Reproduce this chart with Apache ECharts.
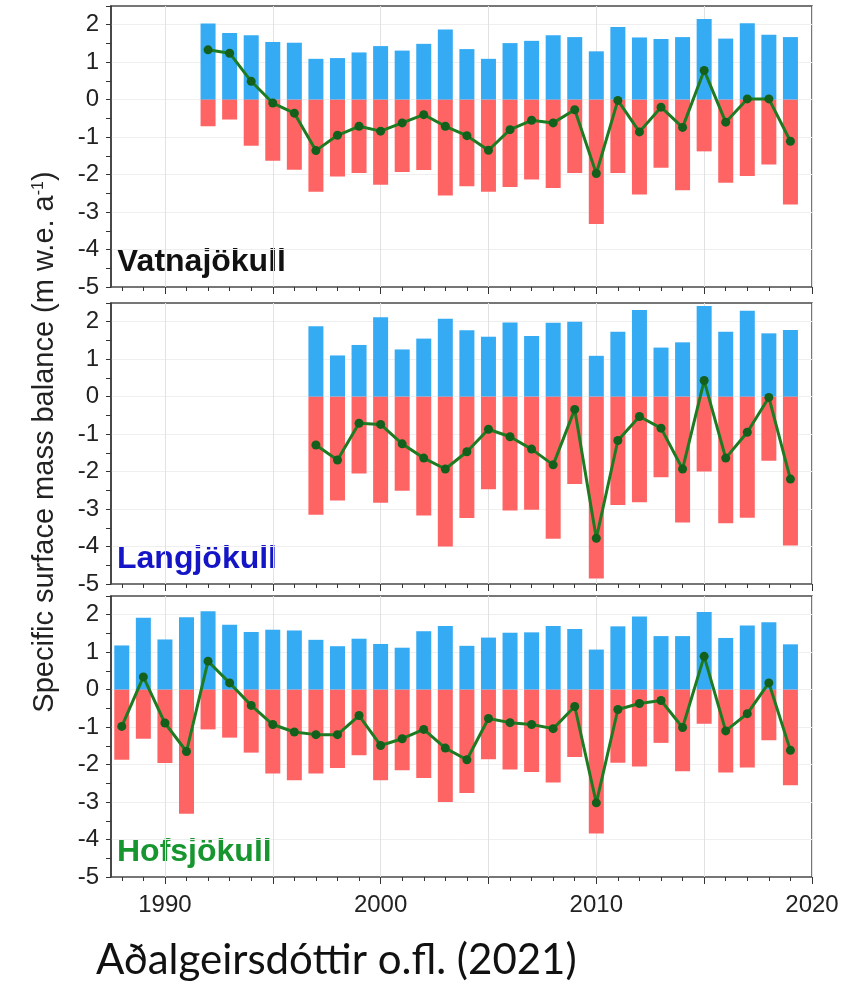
<!DOCTYPE html>
<html><head><meta charset="utf-8">
<script src="https://cdn.jsdelivr.net/npm/echarts@6/dist/echarts.min.js"></script>
<style>html,body{margin:0;padding:0;background:#fff}#c{width:862px;height:986px}</style>
</head><body><div id="c"></div>
<script>
// ---- data ----
const vatnaYears  = [1992,1993,1994,1995,1996,1997,1998,1999,2000,2001,2002,2003,2004,2005,2006,2007,2008,2009,2010,2011,2012,2013,2014,2015,2016,2017,2018,2019];
const vatnaWinter = [2.03,1.78,1.72,1.54,1.52,1.09,1.11,1.26,1.43,1.31,1.49,1.87,1.35,1.09,1.51,1.57,1.72,1.67,1.29,1.94,1.66,1.62,1.67,2.15,1.63,2.04,1.73,1.67];
const vatnaSummer = [-0.71,-0.53,-1.23,-1.63,-1.87,-2.46,-2.05,-1.96,-2.27,-1.93,-1.88,-2.56,-2.31,-2.46,-2.33,-2.13,-2.36,-1.96,-3.32,-1.96,-2.53,-1.82,-2.42,-1.38,-2.22,-2.04,-1.73,-2.80];
const vatnaNet    = [1.33,1.24,0.49,-0.09,-0.36,-1.36,-0.95,-0.71,-0.84,-0.62,-0.40,-0.71,-0.96,-1.35,-0.80,-0.55,-0.62,-0.27,-1.97,-0.02,-0.86,-0.20,-0.74,0.78,-0.60,0.02,0.02,-1.11];

const langYears  = [1997,1998,1999,2000,2001,2002,2003,2004,2005,2006,2007,2008,2009,2010,2011,2012,2013,2014,2015,2016,2017,2018,2019];
const langWinter = [1.88,1.10,1.38,2.12,1.26,1.55,2.08,1.77,1.60,1.98,1.62,1.97,2.00,1.09,1.73,2.31,1.31,1.45,2.42,1.73,2.29,1.69,1.78];
const langSummer = [-3.15,-2.77,-2.05,-2.83,-2.51,-3.17,-4.00,-3.24,-2.47,-3.04,-3.02,-3.79,-2.33,-4.85,-2.89,-2.82,-2.15,-3.36,-2.00,-3.38,-3.23,-1.71,-3.97];
const langNet    = [-1.29,-1.69,-0.71,-0.74,-1.26,-1.64,-1.93,-1.47,-0.87,-1.07,-1.40,-1.82,-0.34,-3.78,-1.17,-0.53,-0.84,-1.93,0.43,-1.64,-0.95,-0.02,-2.20];

const hofsYears  = [1988,1989,1990,1991,1992,1993,1994,1995,1996,1997,1998,1999,2000,2001,2002,2003,2004,2005,2006,2007,2008,2009,2010,2011,2012,2013,2014,2015,2016,2017,2018,2019];
const hofsWinter = [1.18,1.92,1.34,1.93,2.09,1.73,1.54,1.60,1.58,1.33,1.16,1.36,1.22,1.12,1.56,1.70,1.17,1.39,1.52,1.53,1.70,1.62,1.07,1.69,1.95,1.43,1.43,2.07,1.38,1.71,1.80,1.21];
const hofsSummer = [-1.87,-1.31,-1.96,-3.31,-1.06,-1.28,-1.68,-2.24,-2.42,-2.24,-2.09,-1.75,-2.42,-2.15,-2.36,-3.00,-2.76,-1.86,-2.13,-2.20,-2.48,-1.80,-3.84,-1.95,-2.05,-1.42,-2.18,-0.91,-2.21,-2.08,-1.35,-2.55];
const hofsNet    = [-0.98,0.34,-0.89,-1.65,0.76,0.18,-0.42,-0.93,-1.13,-1.20,-1.20,-0.69,-1.49,-1.31,-1.06,-1.56,-1.87,-0.77,-0.88,-0.93,-1.04,-0.45,-3.02,-0.53,-0.37,-0.29,-1.01,0.89,-1.10,-0.64,0.18,-1.62];

const panelNames = ['Vatnajökull','Langjökull','Hofsjökull'];

// ticks / labels
const xLabelValues = [1990,2000,2010,2020];
const xMinorTicks  = [1988,1989,1990,1991,1992,1993,1994,1995,1996,1997,1998,1999,2000,2001,2002,2003,2004,2005,2006,2007,2008,2009,2010,2011,2012,2013,2014,2015,2016,2017,2018,2019,2020];
const xMajorTicks  = [1990,1995,2000,2005,2010,2015,2020];
const yLabelValues = [-5,-4,-3,-2,-1,0,1,2];
const yTickValues  = [-5,-4.5,-4,-3.5,-3,-2.5,-2,-1.5,-1,-0.5,0,0.5,1,1.5,2,2.5];
const yGridValues  = [-4,-3,-2,-1,0,1,2];
const yTitle = 'Specific surface mass balance (m w.e. a{sup|-1})';
const citation = 'Aðalgeirsdóttir o.fl. (2021)';

// ---- layout / style ----
const panels = [
  {years: vatnaYears, w: vatnaWinter, s: vatnaSummer, n: vatnaNet, top: 6,   color: '#111111'},
  {years: langYears,  w: langWinter,  s: langSummer,  n: langNet,  top: 303, color: '#1515c8'},
  {years: hofsYears,  w: hofsWinter,  s: hofsSummer,  n: hofsNet,  top: 596, color: '#17952f'}
];
const GRID_LEFT = 111, GRID_W = 701, GRID_H = 281;
const FONT = '"Liberation Sans", Arial, sans-serif';
const pair = (xs, ys) => xs.map((x, i) => [x, ys[i]]);

const grid = [], xAxis = [], yAxis = [], series = [], graphic = [];
panels.forEach((p, k) => {
  grid.push({left: GRID_LEFT, width: GRID_W, top: p.top, height: GRID_H, show: true,
             borderColor: '#4a4a4a', borderWidth: 1.5, backgroundColor: 'transparent'});
  xAxis.push({gridIndex: k, type: 'value', min: 1987.5, max: 2020, position: 'bottom',
    axisLine: {show: false, onZero: false}, splitLine: {show: false},
    axisTick: {show: true, customValues: xMinorTicks, length: 4, lineStyle: {color: '#333', width: 1}},
    axisLabel: {show: k === 2, customValues: xLabelValues, formatter: v => String(v), margin: 16,
                fontSize: 24, color: '#222', fontFamily: FONT}});
  xAxis.push({gridIndex: k, type: 'value', min: 1987.5, max: 2020, position: 'bottom',
    axisLine: {show: false, onZero: false}, axisLabel: {show: false},
    axisTick: {show: true, customValues: xMajorTicks, length: 7, lineStyle: {color: '#333', width: 1}},
    splitLine: {show: true, lineStyle: {color: '#e2e2e2', width: 1}}});
  yAxis.push({gridIndex: k, type: 'value', min: -5, max: 2.5, position: 'left',
    axisLine: {show: true, onZero: false, lineStyle: {color: '#3a3a3a', width: 1.5}},
    axisTick: {show: true, customValues: yTickValues, length: 5, lineStyle: {color: '#333', width: 1}},
    axisLabel: {customValues: yLabelValues, fontSize: 24, color: '#222', margin: 12, fontFamily: FONT},
    splitLine: {show: false}});
  yAxis.push({gridIndex: k, type: 'value', min: -5, max: 2.5, position: 'left',
    axisLine: {show: false, onZero: false}, axisLabel: {show: false},
    axisTick: {show: false, customValues: yGridValues},
    splitLine: {show: true, lineStyle: {color: '#efefef', width: 1}}});

  series.push({type: 'bar', xAxisIndex: 2 * k, yAxisIndex: 2 * k, data: pair(p.years, p.w),
    barWidth: 15, barGap: '-100%', itemStyle: {color: '#35abf4'}, silent: true});
  series.push({type: 'bar', xAxisIndex: 2 * k, yAxisIndex: 2 * k, data: pair(p.years, p.s),
    barWidth: 15, barGap: '-100%', itemStyle: {color: '#ff6464'}, silent: true});
  series.push({type: 'line', xAxisIndex: 2 * k, yAxisIndex: 2 * k, data: pair(p.years, p.n),
    symbol: 'circle', symbolSize: 9, z: 5, silent: true,
    lineStyle: {color: '#1e7b22', width: 3}, itemStyle: {color: '#13601c'}});

  graphic.push({type: 'text', x: 117, y: p.top + 256, silent: true,
    style: {text: panelNames[k], font: 'bold 32px ' + FONT, fill: p.color,
            align: 'left', verticalAlign: 'middle'}});
});

graphic.push({type: 'text', x: 45, y: 442, rotation: Math.PI / 2, silent: true,
  style: {text: yTitle, font: '29px ' + FONT, fill: '#222', align: 'center', verticalAlign: 'middle',
          rich: {sup: {font: '16px ' + FONT, fill: '#222', verticalAlign: 'top', padding: [0, 0, 11, 0]}}}});
graphic.push({type: 'text', x: 96, y: 960, silent: true,
  style: {text: citation, font: '42px Lato, "Open Sans", sans-serif', fill: '#111',
          align: 'left', verticalAlign: 'middle'}});

const chart = echarts.init(document.getElementById('c'), null, {renderer: 'canvas'});
chart.setOption({animation: false, grid, xAxis, yAxis, series, graphic});
</script></body></html>
